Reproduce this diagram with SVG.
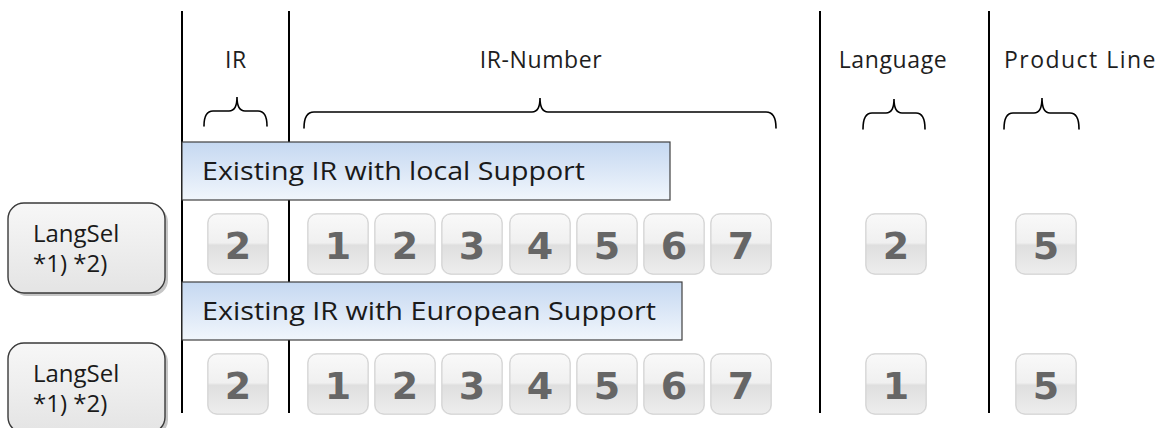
<svg xmlns="http://www.w3.org/2000/svg" width="1164" height="428" viewBox="0 0 1164 428">
  <defs>
    <linearGradient id="bandFill" x1="0" y1="0" x2="0" y2="1">
      <stop offset="0" stop-color="#c5d8f1"/>
      <stop offset="1" stop-color="#f1f6fc"/>
    </linearGradient>
    <linearGradient id="selFill" x1="0" y1="0" x2="0" y2="1">
      <stop offset="0" stop-color="#f7f7f7"/>
      <stop offset="1" stop-color="#e4e4e4"/>
    </linearGradient>
    <linearGradient id="keyFill" x1="0" y1="0" x2="0" y2="1">
      <stop offset="0" stop-color="#f9f9f9"/>
      <stop offset="0.48" stop-color="#f0f0f0"/>
      <stop offset="0.52" stop-color="#dfdfdf"/>
      <stop offset="1" stop-color="#ededed"/>
    </linearGradient>
    <!-- one keycap, centred on the origin -->
    <g id="key">
      <rect x="-31" y="-31" width="62" height="62" rx="10" fill="#e2e2e2"/>
      <rect x="-30" y="-30" width="60" height="60" rx="9" fill="url(#keyFill)" stroke="#d4d4d4" stroke-width="1"/>
    </g>
  </defs>
  <style>
    .hdr { font-family: "Open Sans", "Liberation Sans", sans-serif; font-size: 23px; letter-spacing: 0.6px; fill: #1e1e1e; }
    .band { font-family: "Open Sans", "Liberation Sans", sans-serif; font-size: 25px; fill: #1a1a1a; }
    .sel { font-family: "Open Sans", "Liberation Sans", sans-serif; font-size: 24px; fill: #1a1a1a; }
    .digit { font-family: "DejaVu Sans", "Liberation Sans", sans-serif; font-weight: bold; font-size: 38px; fill: #666666; text-anchor: middle; }
    .rule { stroke: #000; stroke-width: 2; fill: none; }
    .brace { stroke: #000; stroke-width: 1.6; fill: none; stroke-linecap: round; }
    .bandBox { fill: url(#bandFill); stroke: #404040; stroke-width: 1.2; }
    .selBox { fill: url(#selFill); stroke: #3a3a3a; stroke-width: 1.4; }
  </style>

  <rect width="1164" height="428" fill="#ffffff"/>

  <!-- column separators -->
  <g id="connectors">
    <line class="rule" x1="182" y1="11" x2="182" y2="413"/>
    <line class="rule" x1="289" y1="11" x2="289" y2="413"/>
    <line class="rule" x1="820" y1="11" x2="820" y2="413"/>
    <line class="rule" x1="989" y1="11" x2="989" y2="413"/>
  </g>

  <!-- column headers -->
  <g id="headers">
    <text class="hdr" x="236" y="68" text-anchor="middle">IR</text>
    <text class="hdr" x="541" y="68" text-anchor="middle">IR-Number</text>
    <text class="hdr" x="893" y="68" text-anchor="middle">Language</text>
    <text class="hdr" x="1004" y="68" textLength="152" lengthAdjust="spacing">Product Line</text>
  </g>

  <!-- braces grouping each column -->
  <g id="braces">
    <path class="brace" d="M204,126 Q204,111 213,111 L229,111 Q237,111 237,97 Q237,111 245,111 L258,111 Q267,111 267,126"/>
    <path class="brace" d="M304,128 Q304,112 314,112 L532,112 Q540,112 540,98 Q540,112 548,112 L766,112 Q776,112 776,128"/>
    <path class="brace" d="M863,129 Q863,113 872,113 L886,113 Q894,113 894,99 Q894,113 902,113 L916,113 Q925,113 925,129"/>
    <path class="brace" d="M1004,129 Q1004,113 1013,113 L1034,113 Q1042,113 1042,98 Q1042,113 1050,113 L1070,113 Q1079,113 1079,129"/>
  </g>

  <!-- row 1 -->
  <g id="band-local">
    <rect class="bandBox" x="182" y="142" width="488" height="58"/>
    <text class="band" x="202" y="180" textLength="383" lengthAdjust="spacingAndGlyphs">Existing IR with local Support</text>
  </g>
  <g id="langsel-1">
    <rect x="11" y="206" width="157" height="90" rx="16" fill="#c6c6c6"/>
    <rect class="selBox" x="8" y="203" width="157" height="90" rx="16"/>
    <text class="sel" x="33" y="242">LangSel</text>
    <text class="sel" x="33" y="272">*1) *2)</text>
  </g>
  <g id="keys-1">
    <g transform="translate(238,244)"><use href="#key"/><text class="digit" y="15">2</text></g>
    <g transform="translate(338,244)"><use href="#key"/><text class="digit" y="15">1</text></g>
    <g transform="translate(405,244)"><use href="#key"/><text class="digit" y="15">2</text></g>
    <g transform="translate(472,244)"><use href="#key"/><text class="digit" y="15">3</text></g>
    <g transform="translate(540,244)"><use href="#key"/><text class="digit" y="15">4</text></g>
    <g transform="translate(607,244)"><use href="#key"/><text class="digit" y="15">5</text></g>
    <g transform="translate(674,244)"><use href="#key"/><text class="digit" y="15">6</text></g>
    <g transform="translate(741,244)"><use href="#key"/><text class="digit" y="15">7</text></g>
    <g transform="translate(896,244)"><use href="#key"/><text class="digit" y="15">2</text></g>
    <g transform="translate(1046,244)"><use href="#key"/><text class="digit" y="15">5</text></g>
  </g>

  <!-- row 2 -->
  <g id="band-european">
    <rect class="bandBox" x="182" y="282" width="500" height="58"/>
    <text class="band" x="202" y="320" textLength="454" lengthAdjust="spacingAndGlyphs">Existing IR with European Support</text>
  </g>
  <g id="langsel-2">
    <rect x="11" y="346" width="157" height="90" rx="16" fill="#c6c6c6"/>
    <rect class="selBox" x="8" y="343" width="157" height="90" rx="16"/>
    <text class="sel" x="33" y="382">LangSel</text>
    <text class="sel" x="33" y="412">*1) *2)</text>
  </g>
  <g id="keys-2">
    <g transform="translate(238,384)"><use href="#key"/><text class="digit" y="15">2</text></g>
    <g transform="translate(338,384)"><use href="#key"/><text class="digit" y="15">1</text></g>
    <g transform="translate(405,384)"><use href="#key"/><text class="digit" y="15">2</text></g>
    <g transform="translate(472,384)"><use href="#key"/><text class="digit" y="15">3</text></g>
    <g transform="translate(540,384)"><use href="#key"/><text class="digit" y="15">4</text></g>
    <g transform="translate(607,384)"><use href="#key"/><text class="digit" y="15">5</text></g>
    <g transform="translate(674,384)"><use href="#key"/><text class="digit" y="15">6</text></g>
    <g transform="translate(741,384)"><use href="#key"/><text class="digit" y="15">7</text></g>
    <g transform="translate(896,384)"><use href="#key"/><text class="digit" y="15">1</text></g>
    <g transform="translate(1046,384)"><use href="#key"/><text class="digit" y="15">5</text></g>
  </g>
</svg>
